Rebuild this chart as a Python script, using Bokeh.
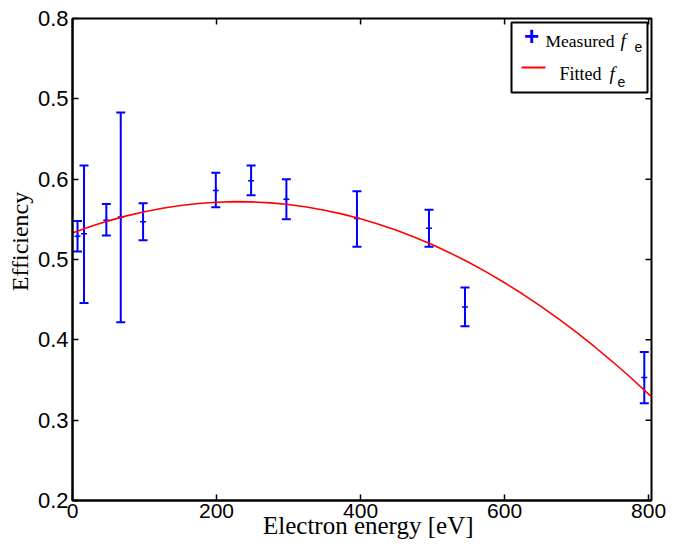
from bokeh.plotting import figure
from bokeh.models import (Whisker, TeeHead, ColumnDataSource, Label,
                          BoxAnnotation, FixedTicker, Range1d)
from bokeh.embed import file_html
from bokeh.resources import INLINE
import math

# Measured efficiency with error bars
energy = [7, 16, 47, 67, 98, 199, 248, 297, 395, 495, 545, 794]
eff = [0.529, 0.532, 0.549, 0.553, 0.547, 0.586, 0.598, 0.575, 0.551, 0.539, 0.441, 0.353]
eff_upper = [0.548, 0.617, 0.569, 0.683, 0.570, 0.608, 0.617, 0.600, 0.585, 0.562, 0.465, 0.385]
eff_lower = [0.510, 0.446, 0.530, 0.422, 0.524, 0.565, 0.580, 0.550, 0.516, 0.516, 0.417, 0.321]

# Fitted curve
fit_x = [0, 25, 50, 75, 100, 125, 150, 175, 200, 225, 250, 275, 300, 325, 350, 375, 400,
         425, 450, 475, 500, 525, 550, 575, 600, 625, 650, 675, 700, 725, 750, 775, 800, 804]
fit_y = [0.5330, 0.5410, 0.5481, 0.5543, 0.5595, 0.5639, 0.5673, 0.5698, 0.5713, 0.5720,
         0.5717, 0.5705, 0.5684, 0.5653, 0.5614, 0.5565, 0.5507, 0.5440, 0.5363, 0.5278,
         0.5183, 0.5079, 0.4965, 0.4843, 0.4711, 0.4570, 0.4420, 0.4261, 0.4092, 0.3914,
         0.3727, 0.3531, 0.3325, 0.3292]

x_ticks = [0, 200, 400, 600, 800]
y_ticks = [0.2, 0.3, 0.4, 0.5, 0.6, 0.7, 0.8]
y_tick_labels = {0.2: "0.2", 0.3: "0.3", 0.4: "0.4", 0.5: "0.5", 0.6: "0.6", 0.7: "0.5", 0.8: "0.8"}
x_title = "Electron energy [eV]"
y_title = "Efficiency"
x_min, x_max = 0, 804
y_min, y_max = 0.2, 0.8

BLUE = "#0000ff"
RED = "#ff0000"
NBSP = "\u00a0"

p = figure(width=680, height=546, x_range=Range1d(x_min, x_max), y_range=Range1d(y_min, y_max),
           output_backend="svg", toolbar_location=None,
           min_border_left=72, min_border_right=29, min_border_top=18, min_border_bottom=46,
           x_axis_label=NBSP * 2 + x_title, y_axis_label=NBSP * 6 + y_title)
p.outline_line_color = "black"
p.outline_line_width = 2
p.xgrid.visible = False
p.ygrid.visible = False
p.background_fill_color = "white"
p.border_fill_color = "white"

p.xaxis.ticker = FixedTicker(ticks=x_ticks)
p.yaxis.ticker = FixedTicker(ticks=y_ticks)
p.yaxis.major_label_overrides = y_tick_labels

for ax in list(p.xaxis) + list(p.yaxis):
    ax.axis_line_width = 2
    ax.axis_line_color = "black"
    ax.major_tick_in = 6
    ax.major_tick_out = 0
    ax.minor_tick_in = 0
    ax.minor_tick_out = 0
    ax.major_tick_line_width = 1.5
    ax.major_label_text_font = "Liberation Sans"
    ax.major_label_text_color = "black"
    ax.axis_label_text_font = "Liberation Serif"
    ax.axis_label_text_font_style = "normal"
    ax.axis_label_text_color = "black"

p.yaxis.major_label_text_font_size = "22px"
p.yaxis.major_label_standoff = 4
p.yaxis.axis_label_text_font_size = "24px"
p.yaxis.axis_label_standoff = 2

p.xaxis.major_label_text_font_size = "21px"
p.xaxis.major_label_standoff = 3
p.xaxis.axis_label_text_font_size = "25px"
p.xaxis.axis_label_standoff = -9

# mirrored (inward) ticks on the top and right edges, clipped by the frame
p.scatter(x=x_ticks, y=[y_max] * len(x_ticks), marker="dash", angle=math.pi / 2, size=12,
          line_color="black", line_width=1.5)
p.scatter(x=[x_max] * len(y_ticks), y=y_ticks, marker="dash", size=12,
          line_color="black", line_width=1.5)

src = ColumnDataSource(dict(x=energy, y=eff, upper=eff_upper, lower=eff_lower))
w = Whisker(base="x", upper="upper", lower="lower", source=src,
            line_color=BLUE, line_width=2,
            upper_head=TeeHead(size=9, line_color=BLUE, line_width=2),
            lower_head=TeeHead(size=9, line_color=BLUE, line_width=2))
p.add_layout(w)
p.scatter("x", "y", source=src, marker="cross", size=6, line_color=BLUE, line_width=1.5)

p.line(fit_x, fit_y, line_color=RED, line_width=1.6)

# Legend (drawn by hand, screen units relative to the frame)
p.add_layout(BoxAnnotation(left=439, right=575, top=478, bottom=408,
                           left_units="screen", right_units="screen",
                           top_units="screen", bottom_units="screen",
                           fill_color="white", fill_alpha=1.0,
                           line_color="black", line_alpha=1.0, line_width=2, level="overlay"))
p.add_layout(Label(x=459, y=465, x_units="screen", y_units="screen", text="+",
                   text_font="Liberation Sans", text_font_style="bold",
                   text_font_size="26px", text_color=BLUE,
                   text_align="center", text_baseline="middle", level="overlay"))
p.add_layout(Label(x=473, y=460, x_units="screen", y_units="screen", text="Measured",
                   text_font="Liberation Serif", text_font_size="17.5px", text_color="black",
                   text_align="left", text_baseline="alphabetic", level="overlay"))
p.add_layout(Label(x=548, y=460, x_units="screen", y_units="screen", text="f",
                   text_font="Liberation Serif", text_font_style="italic",
                   text_font_size="19px", text_color="black",
                   text_align="left", text_baseline="alphabetic", level="overlay"))
p.add_layout(Label(x=562, y=454, x_units="screen", y_units="screen", text="e",
                   text_font="Liberation Sans", text_font_size="14px", text_color="black",
                   text_align="left", text_baseline="alphabetic", level="overlay"))

p.add_layout(BoxAnnotation(left=449, right=473, top=434, bottom=432,
                           left_units="screen", right_units="screen",
                           top_units="screen", bottom_units="screen",
                           fill_color=RED, fill_alpha=1.0, line_color=None, level="overlay"))
p.add_layout(Label(x=487, y=427, x_units="screen", y_units="screen", text="Fitted",
                   text_font="Liberation Serif", text_font_size="18px", text_color="black",
                   text_align="left", text_baseline="alphabetic", level="overlay"))
p.add_layout(Label(x=537, y=427, x_units="screen", y_units="screen", text="f",
                   text_font="Liberation Serif", text_font_style="italic",
                   text_font_size="19px", text_color="black",
                   text_align="left", text_baseline="alphabetic", level="overlay"))
p.add_layout(Label(x=545, y=419, x_units="screen", y_units="screen", text="e",
                   text_font="Liberation Sans", text_font_size="14px", text_color="black",
                   text_align="left", text_baseline="alphabetic", level="overlay"))

open("out.html", "w").write(file_html(p, INLINE))
